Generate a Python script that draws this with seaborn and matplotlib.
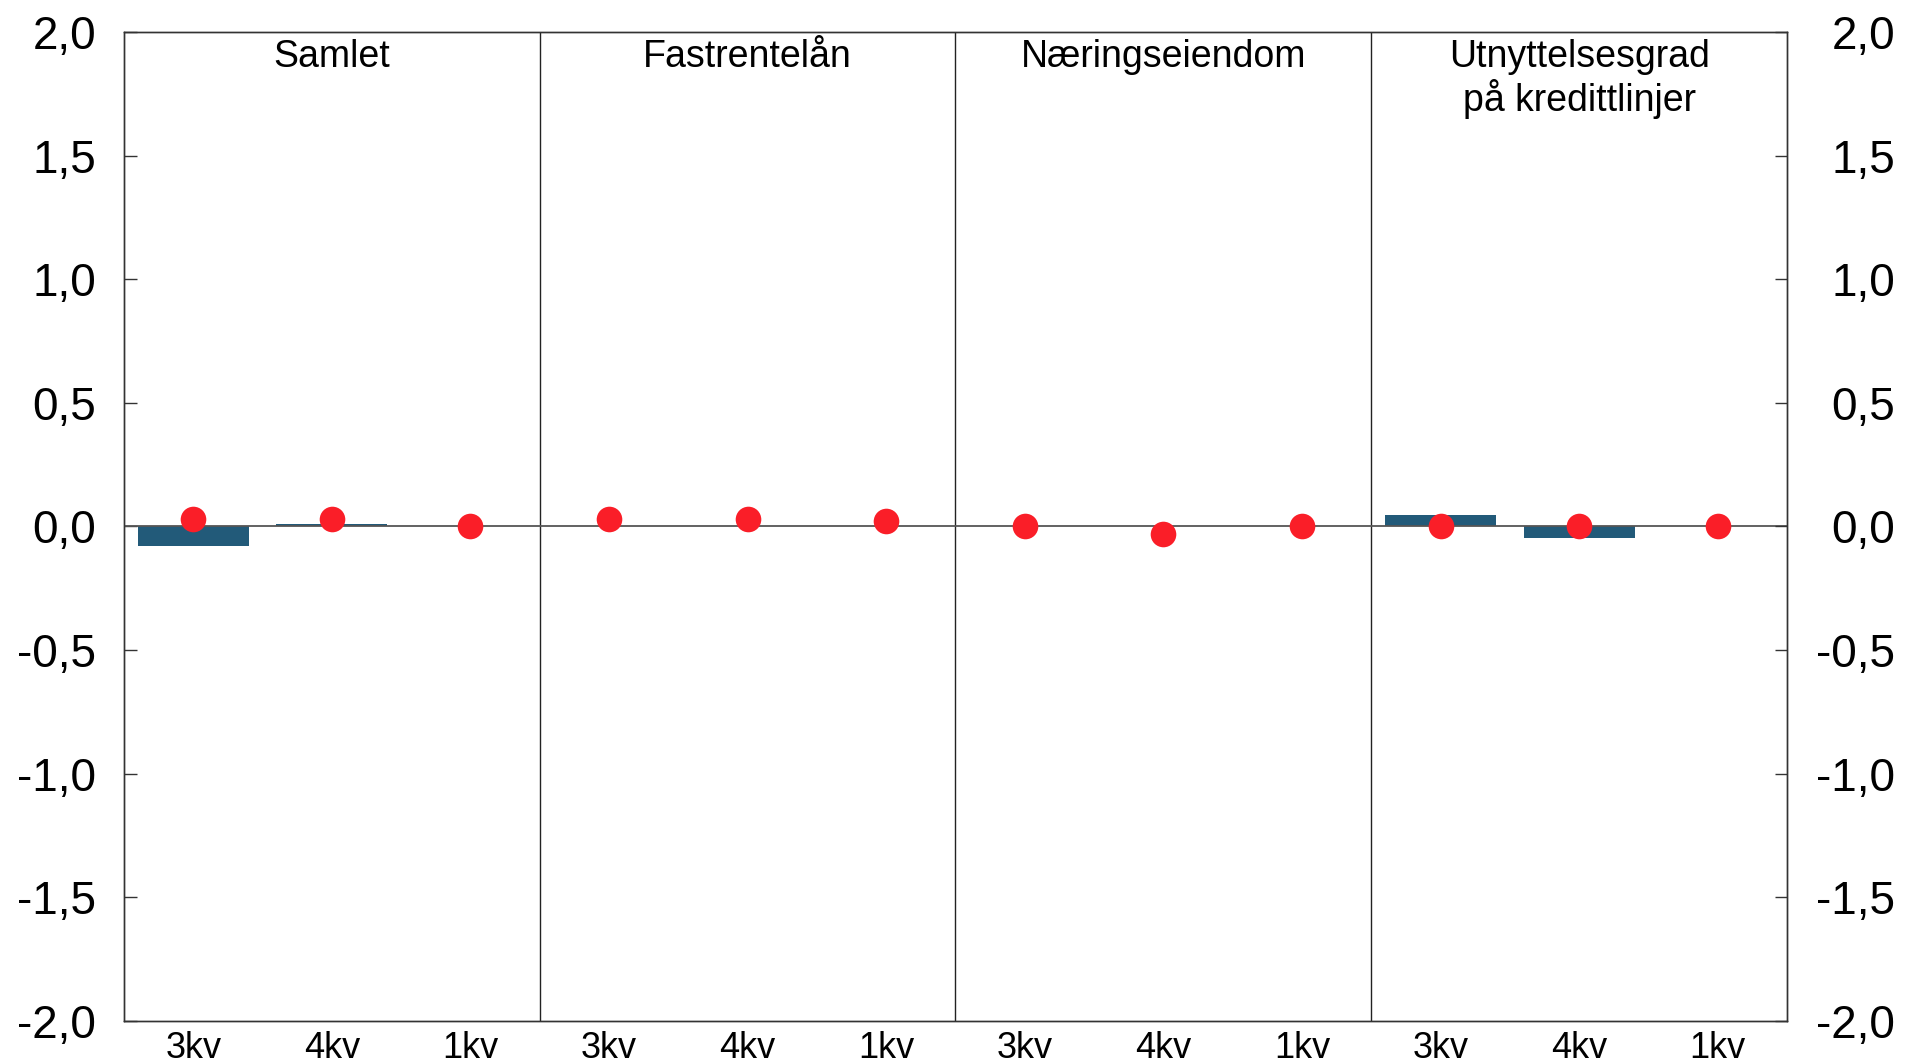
import matplotlib
matplotlib.use('Agg')
import matplotlib.pyplot as plt
import seaborn as sns
import pandas as pd
from matplotlib.ticker import FuncFormatter, MultipleLocator

# data
groups = ['Samlet', 'Fastrentelån', 'Næringseiendom', 'Utnyttelsesgrad\npå kredittlinjer']
quarters = ['3kv', '4kv', '1kv']
bar_values = [-0.08, 0.01, 0.0,
              0.0, 0.0, 0.0,
              0.0, 0.0, 0.0,
              0.045, -0.045, 0.0]
dot_values = [0.03, 0.03, 0.0,
              0.03, 0.03, 0.022,
              0.0, -0.03, 0.0,
              0.0, 0.0, 0.0]

bar_color = '#225A79'
dot_color = '#FA1E28'

n = len(groups) * len(quarters)
df = pd.DataFrame({
    'pos': list(range(n)),
    'bar': bar_values,
    'dot': dot_values,
})

sns.set_style('white')
plt.rcParams['font.family'] = ['Liberation Sans', 'DejaVu Sans']
plt.rcParams['text.color'] = 'black'
plt.rcParams['xtick.labelcolor'] = 'black'
plt.rcParams['ytick.labelcolor'] = 'black'

fig = plt.figure(figsize=(19.19, 10.64), dpi=100)
ax = fig.add_axes([0.0646, 0.0404, 0.8666, 0.9296])

sns.barplot(x='pos', y='bar', data=df, color=bar_color, width=0.8,
            saturation=1, linewidth=0, ax=ax)
sns.scatterplot(x='pos', y='dot', data=df, color=dot_color, s=340,
                linewidth=0, zorder=5, ax=ax)

ax.axhline(0, color='#555555', lw=1.3, zorder=3)
for i in range(1, len(groups)):
    ax.axvline(i * len(quarters) - 0.5, color='#222222', lw=1.0)

ax.set_xlim(-0.5, n - 0.5)
ax.set_ylim(-2.0, 2.0)
fmt = FuncFormatter(lambda v, p: f'{0.0 if abs(v) < 1e-9 else v:.1f}'.replace('.', ','))
ax.yaxis.set_major_locator(MultipleLocator(0.5))
ax.yaxis.set_major_formatter(fmt)
ax.set_xticks(range(n))
ax.set_xticklabels(quarters * len(groups))
ax.set_xlabel('')
ax.set_ylabel('')

ax.tick_params(axis='y', direction='in', length=9, width=1, left=True,
               right=False, labelsize=33, pad=20, color='#333333')
ax.tick_params(axis='x', length=0, labelsize=26, pad=7)

# right hand axis, labels right aligned like the left side
ax2 = ax.twinx()
ax2.set_ylim(ax.get_ylim())
ax2.yaxis.set_major_locator(MultipleLocator(0.5))
ax2.yaxis.set_major_formatter(fmt)
ax2.tick_params(axis='y', direction='in', length=9, width=1, right=True,
                labelsize=33, pad=78, color='#333333')
for lab in ax2.get_yticklabels():
    lab.set_horizontalalignment('right')
ax2.grid(False)

for a in (ax, ax2):
    for s in a.spines.values():
        s.set_color('#333333')
        s.set_linewidth(1.0)

for i, g in enumerate(groups):
    ax.text(i * len(quarters) + 1, 1.97, g, ha='center', va='top',
            fontsize=27, linespacing=1.12)

fig.savefig('out.png', dpi=100)
